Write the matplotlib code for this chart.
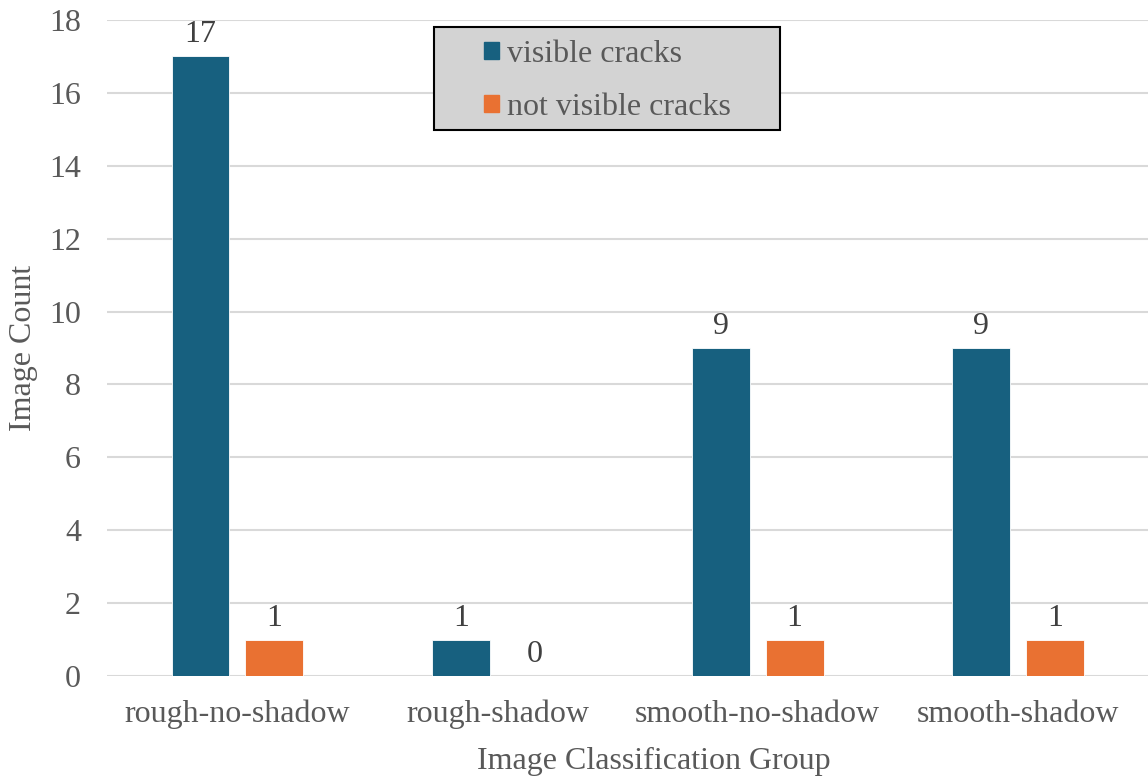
import matplotlib
matplotlib.use("Agg")
import matplotlib.pyplot as plt
import numpy as np
from matplotlib.patches import Patch, Rectangle

categories = ["rough-no-shadow", "rough-shadow", "smooth-no-shadow", "smooth-shadow"]
visible = [17, 1, 9, 9]
not_visible = [1, 0, 1, 1]
series_names = ["visible cracks", "not visible cracks"]
y_ticks = [0, 2, 4, 6, 8, 10, 12, 14, 16, 18]

BLUE = "#17607F"
ORANGE = "#E97132"
TEXT = "#595959"
GRID = "#D9D9D9"
FS = 23

plt.rcParams["font.family"] = ["Liberation Serif", "DejaVu Serif"]

fig = plt.figure(figsize=(11.48, 7.78), dpi=100)
ax = fig.add_axes([0.0935, 0.1311, 0.9065, 0.8432])

x = np.arange(len(categories))
w = 0.222
off = 0.1418
b1 = ax.bar(x - off, visible, w, color=BLUE, zorder=3, edgecolor="white", linewidth=0.6)
b2 = ax.bar(x + off, not_visible, w, color=ORANGE, zorder=3, edgecolor="white", linewidth=0.6)

for bars, vals in ((b1, visible), (b2, not_visible)):
    for rect, v in zip(bars, vals):
        ax.annotate(str(v), (rect.get_x() + rect.get_width() / 2, v),
                    xytext=(0, 5), textcoords="offset points",
                    ha="center", va="bottom", fontsize=FS, color="#404040")

ax.set_xlim(-0.5, len(categories) - 0.5)
ax.set_ylim(0, 18)
ax.set_yticks(y_ticks)
ax.set_xticks(x)
ax.set_xticklabels(categories)
ax.tick_params(axis="both", length=0, labelsize=FS, colors=TEXT)
ax.tick_params(axis="y", pad=19)
ax.tick_params(axis="x", pad=17)
ax.yaxis.grid(True, color=GRID, linewidth=1.5, zorder=0)
for s in ax.spines.values():
    s.set_visible(False)

ax.set_xlabel("Image Classification Group", fontsize=FS, color=TEXT, labelpad=13, x=0.5255)
ax.set_ylabel("Image Count", fontsize=FS, color=TEXT, labelpad=8)

# legend box drawn as a separate framed rectangle
fig.patches.append(Rectangle((0.378, 0.8329), 0.3014, 0.1324, transform=fig.transFigure,
                             facecolor="#D3D3D3", edgecolor="black", linewidth=1.5, zorder=4))
handles = [Patch(color=BLUE), Patch(color=ORANGE)]
leg = fig.legend(handles, series_names, loc="center",
                 bbox_to_anchor=(0.5287, 0.8962), fontsize=FS,
                 frameon=False, handlelength=0.47, handleheight=0.47,
                 handletextpad=0.25, borderpad=0, labelspacing=0.75)
leg.set_zorder(5)
for t in leg.get_texts():
    t.set_color(TEXT)

fig.savefig("out.png", dpi=100)
